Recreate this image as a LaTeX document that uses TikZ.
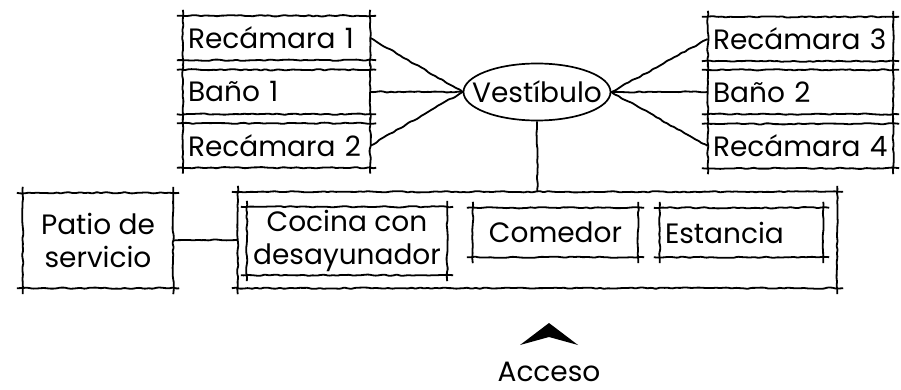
\documentclass[tikz,border=0pt]{standalone}
\usepackage{fontspec}
\setmainfont{Poppins}
\usetikzlibrary{shapes.geometric,decorations.pathmorphing}

\newcommand{\roomfont}{\fontsize{28}{33}\selectfont}
\newcommand{\sketchframe}[1]{%
  \draw[sketch] ([xshift=-6pt]#1.north west) -- ([xshift=6pt]#1.north east);
  \draw[sketch] ([xshift=-6pt]#1.south west) -- ([xshift=6pt]#1.south east);
  \draw[sketch] ([yshift=6pt]#1.north west) -- ([yshift=-6pt]#1.south west);
  \draw[sketch] ([yshift=6pt]#1.north east) -- ([yshift=-6pt]#1.south east);
}

\begin{document}
\pgfmathsetseed{7}
\begin{tikzpicture}[
    x=1pt, y=-1pt,
    room/.style={rectangle, minimum height=44pt, inner xsep=5pt, inner ysep=0pt, font=\roomfont},
    sketch/.style={line width=1.8pt, decorate, decoration={random steps, segment length=4pt, amplitude=0.7pt}, rounded corners=1pt},
]
\useasboundingbox (0,0) rectangle (901,390);

% Hall
\node[draw, ellipse, line width=1.7pt, minimum width=147pt, minimum height=57pt, inner sep=0pt, font=\roomfont] (vest) at (537,92) {\makebox[0pt]{Vestíbulo}};

% Bedrooms - left side
\node[room, text width=177pt, align=left] (rec1) at (276.5,38) {Recámara 1};
\node[room, text width=177pt, align=left] (bano1) at (276.5,92) {Baño 1};
\node[room, text width=177pt, align=left] (rec2) at (276.5,145.5) {Recámara 2};

% Bedrooms - right side
\node[room, text width=175pt, align=left] (rec3) at (800.5,39) {Recámara 3};
\node[room, text width=175pt, align=left] (bano2) at (800.5,92) {Baño 2};
\node[room, text width=175pt, align=left] (rec4) at (800.5,146) {Recámara 4};

% Social area
\node[room, minimum width=599pt, minimum height=96pt] (casa) at (537.5,240) {};
\node[room, minimum width=200pt, minimum height=68pt, align=center] (cocina) at (347,241) {Cocina con\\desayunador};
\node[room, minimum width=165pt, minimum height=49pt] (comedor) at (555.5,232.5) {Comedor};
\node[room, text width=153pt, minimum height=49pt, align=left] (estancia) at (741.5,232.5) {Estancia};

% Service
\node[room, minimum width=150pt, minimum height=95pt, align=center] (patio) at (98,240.5) {Patio de\\servicio};

% Frames
\foreach \n in {rec1,bano1,rec2,rec3,bano2,rec4,casa,cocina,comedor,estancia,patio}
  \sketchframe{\n};

% Connections
\draw[sketch] (vest.west) -- (rec1.east);
\draw[sketch] (vest.west) -- (bano1.east);
\draw[sketch] (vest.west) -- (rec2.east);
\draw[sketch] (vest.east) -- (rec3.west);
\draw[sketch] (vest.east) -- (bano2.west);
\draw[sketch] (vest.east) -- (rec4.west);
\draw[sketch] (vest.south) -- (casa.north);
\draw[sketch] (patio.east) -- (casa.west);

% Entrance
\node[font=\roomfont, inner sep=0pt] (acceso) at (549,372) {Acceso};
\fill ([yshift=49pt]acceso.center) -- ([xshift=29pt,yshift=27pt]acceso.center)
  -- ([yshift=35pt]acceso.center) -- ([xshift=-29pt,yshift=27pt]acceso.center) -- cycle;

\end{tikzpicture}
\end{document}
